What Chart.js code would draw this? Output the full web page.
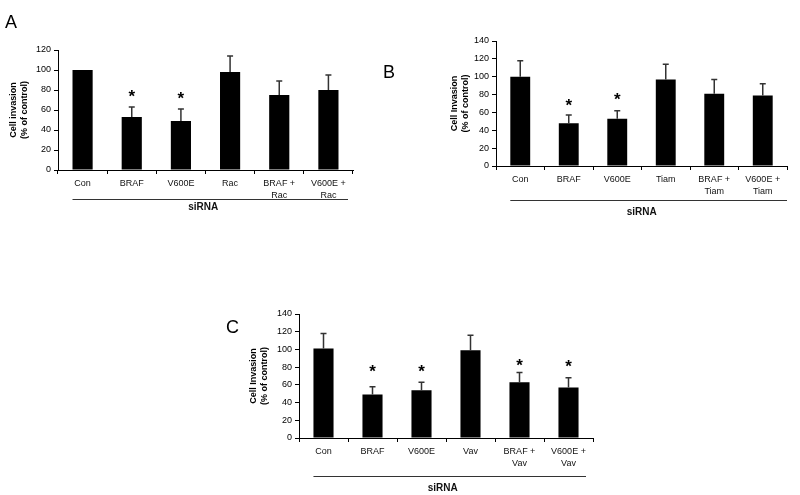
<!DOCTYPE html>
<html>
<head>
<meta charset="utf-8">
<script src="https://cdn.jsdelivr.net/npm/chart.js@4.4.1/dist/chart.umd.min.js"></script>
<style>
  html, body { margin: 0; padding: 0; background: #fff; }
  #wrap { position: relative; width: 800px; height: 495px; }
  #wrap canvas { position: absolute; left: 0; top: 0; }
</style>
</head>
<body>
<div id="wrap">
  <canvas id="panelA" width="800" height="495"></canvas>
  <canvas id="panelB" width="800" height="495"></canvas>
  <canvas id="panelC" width="800" height="495"></canvas>
</div>
<script>
// panel A: Rac
const labelsA = ["Con", "BRAF", "V600E", "Rac", ["BRAF +", "Rac"], ["V600E +", "Rac"]];
const valuesA = [100, 53, 49, 98, 75, 80];
const errorsA = [0, 10, 12, 16, 14, 15];
const starsA = [null, 78, 76, null, null, null];

// panel B: Tiam
const labelsB = ["Con", "BRAF", "V600E", "Tiam", ["BRAF +", "Tiam"], ["V600E +", "Tiam"]];
const valuesB = [100, 48, 53, 97, 81, 79];
const errorsB = [18, 9, 9, 17, 16, 13];
const starsB = [null, 73, 79, null, null, null];

// panel C: Vav
const labelsC = ["Con", "BRAF", "V600E", "Vav", ["BRAF +", "Vav"], ["V600E +", "Vav"]];
const valuesC = [101, 49, 54, 99, 63, 57];
const errorsC = [17, 9, 9, 17, 11, 11];
const starsC = [null, 80, 80, null, 87.5, 85.5];

const FONT = "'Liberation Sans', Arial, sans-serif";

const extras = {
  id: "extras",
  afterDatasetsDraw(chart, args, opts) {
    const { ctx, chartArea, scales: { y } } = chart;
    const meta = chart.getDatasetMeta(0);
    ctx.save();

    // error bars (upper only)
    ctx.strokeStyle = "#333";
    ctx.lineWidth = 1.5;
    meta.data.forEach((bar, i) => {
      const e = opts.errors[i];
      if (!e) return;
      const top = y.getPixelForValue(opts.values[i] + e);
      ctx.beginPath();
      ctx.moveTo(bar.x, bar.y);
      ctx.lineTo(bar.x, top);
      ctx.moveTo(bar.x - 3, top);
      ctx.lineTo(bar.x + 3, top);
      ctx.stroke();
    });

    // significance stars
    ctx.fillStyle = "#000";
    ctx.font = "bold 17px " + FONT;
    ctx.textAlign = "center";
    ctx.textBaseline = "alphabetic";
    meta.data.forEach((bar, i) => {
      const s = opts.stars[i];
      if (s == null) return;
      ctx.fillText("*", bar.x, y.getPixelForValue(s) + 10);
    });

    // siRNA bracket line
    const x0 = meta.data[0].x - meta.data[0].width / 2;
    const x1 = chartArea.right - opts.lineInset;
    const ly = chartArea.bottom + opts.lineDrop;
    ctx.strokeStyle = "#333";
    ctx.lineWidth = 1;
    ctx.beginPath();
    ctx.moveTo(x0, ly + 0.5);
    ctx.lineTo(x1, ly + 0.5);
    ctx.stroke();
    ctx.font = "bold 10px " + FONT;
    ctx.textBaseline = "middle";
    ctx.fillStyle = "#111";
    ctx.fillText("siRNA", (x0 + x1) / 2 - 7, ly + opts.textDrop);

    // panel letter
    ctx.font = "18px " + FONT;
    ctx.textAlign = "left";
    ctx.textBaseline = "alphabetic";
    ctx.fillStyle = "#000";
    ctx.fillText(opts.letter, opts.letterX, opts.letterY);
    ctx.restore();
  }
};

function makePanel(id, labels, values, errors, stars, cfg) {
  return new Chart(document.getElementById(id), {
    type: "bar",
    data: {
      labels: labels,
      datasets: [
        {
          data: values,
          backgroundColor: "#000",
          borderWidth: 0,
          barPercentage: 1,
          categoryPercentage: 0.41,
        },
      ],
    },
    options: {
      responsive: false,
      animation: false,
      layout: { padding: cfg.padding },
      plugins: {
        legend: { display: false },
        tooltip: { enabled: false },
        extras: {
          values: values,
          errors: errors,
          stars: stars,
          letter: cfg.letter,
          letterX: cfg.letterX,
          letterY: cfg.letterY,
          lineDrop: cfg.lineDrop,
          lineInset: cfg.lineInset,
          textDrop: cfg.textDrop,
        },
      },
      scales: {
        x: {
          afterFit: (s) => { s.height = 40; },
          grid: {
            display: true,
            drawOnChartArea: false,
            drawTicks: true,
            tickLength: 4,
            color: "#000",
            offset: true,
          },
          border: { display: true, color: "#000", width: 1 },
          ticks: {
            color: "#111",
            padding: 4,
            maxRotation: 0,
            autoSkip: false,
            font: { family: FONT, size: 9, lineHeight: 1.3 },
          },
        },
        y: {
          min: 0,
          max: cfg.yMax,
          afterFit: (s) => { s.width = cfg.yWidth; },
          grid: {
            display: true,
            drawOnChartArea: false,
            drawTicks: true,
            tickLength: 4,
            color: "#000",
          },
          border: { display: true, color: "#000", width: 1 },
          ticks: {
            stepSize: 20,
            color: "#000",
            padding: 3,
            font: { family: FONT, size: 9 },
          },
          title: {
            display: true,
            text: cfg.yTitle,
            color: "#000",
            padding: 0,
            font: { family: FONT, size: 9, weight: "bold", lineHeight: 1.2 },
          },
        },
      },
    },
    plugins: [extras],
  });
}

makePanel("panelA", labelsA, valuesA, errorsA, starsA, {
  padding: { left: 8, right: 447, top: 50, bottom: 285 },
  yWidth: 50, yMax: 120,
  yTitle: ["Cell invasion", "(% of control)"],
  letter: "A", letterX: 5, letterY: 28,
  lineDrop: 29, lineInset: 5, textDrop: 8,
});

makePanel("panelB", labelsB, valuesB, errorsB, starsB, {
  padding: { left: 449, right: 13, top: 41, bottom: 289 },
  yWidth: 47, yMax: 140,
  yTitle: ["Cell Invasion", "(% of control)"],
  letter: "B", letterX: 383, letterY: 78,
  lineDrop: 34, lineInset: 0, textDrop: 12,
});

makePanel("panelC", labelsC, valuesC, errorsC, starsC, {
  padding: { left: 248, right: 207, top: 314, bottom: 17 },
  yWidth: 51, yMax: 140,
  yTitle: ["Cell Invasion", "(% of control)"],
  letter: "C", letterX: 226, letterY: 333,
  lineDrop: 38, lineInset: 7, textDrop: 12,
});
</script>
</body>
</html>
